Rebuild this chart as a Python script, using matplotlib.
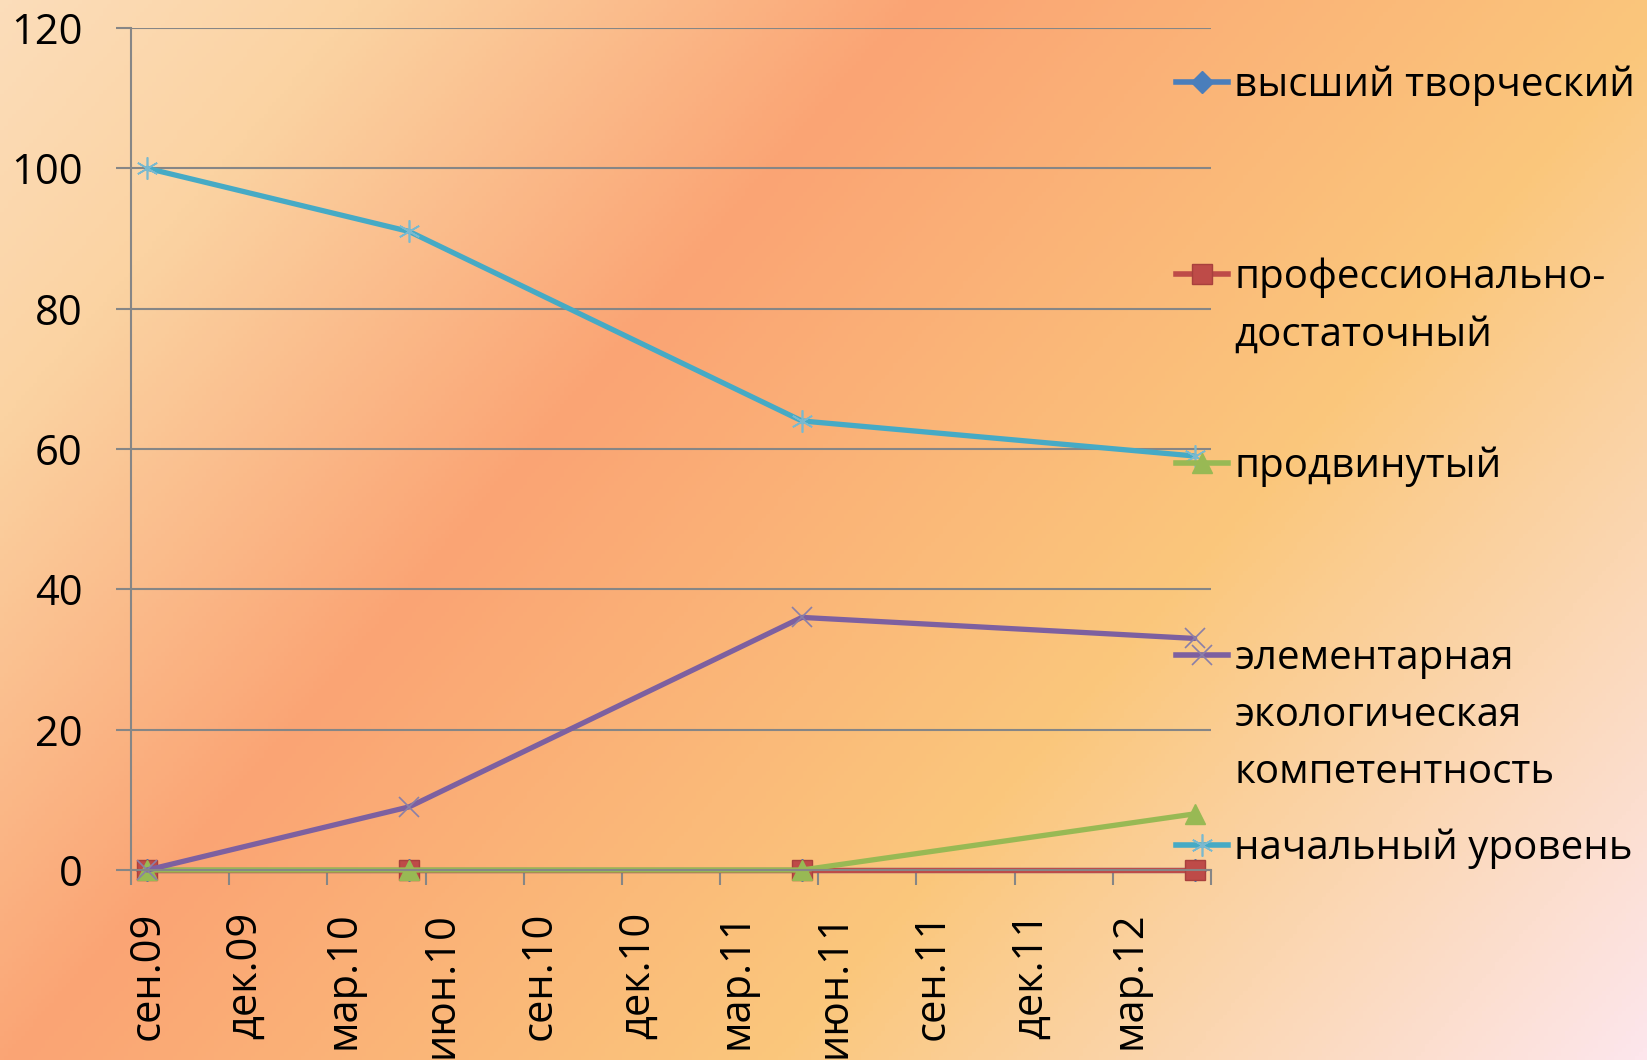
import numpy as np
import matplotlib
matplotlib.use("Agg")
import matplotlib.pyplot as plt
from matplotlib.colors import LinearSegmentedColormap
from matplotlib.lines import Line2D

plt.rcParams['font.family'] = ['Open Sans', 'DejaVu Sans']

# data
start_month = (2009, 9)
n_months = 33
dates = [(2009, 9), (2010, 5), (2011, 5), (2012, 5)]
tick_labels = ['сен.09', 'дек.09', 'мар.10', 'июн.10', 'сен.10', 'дек.10',
               'мар.11', 'июн.11', 'сен.11', 'дек.11', 'мар.12']
series_names = ['высший творческий', 'профессионально-\nдостаточный', 'продвинутый',
                'элементарная\nэкологическая\nкомпетентность', 'начальный уровень']
vysshiy = [0, 0, 0, 0]
prof = [0, 0, 0, 0]
prodv = [0, 0, 0, 8]
element = [0, 9, 36, 33]
nachal = [100, 91, 64, 59]

colors = ['#4A7EBB', '#BE4B48', '#98B954', '#7D60A0', '#46AAC5']
markers = ['D', 's', '^', 'x', (6, 2, 0)]
msizes = [11, 14, 15, 15, 16]
mecs = ['#4A7EBB', '#A8403D', '#98B954', '#8a7fa8', '#7ab9cf']
mews = [1, 1, 1, 1.2, 1.2]

x = np.array([(y - start_month[0]) * 12 + (m - start_month[1]) for y, m in dates]) + 0.5

fig = plt.figure(figsize=(16.47, 10.6), dpi=100)

# gradient background
bg = fig.add_axes([0, 0, 1, 1], zorder=-10)
W, H = 1647, 1060
xx, yy = np.meshgrid(np.linspace(0, W, 400), np.linspace(0, H, 260))
t = (xx * 0.76 + yy * 0.65) / (W * 0.76 + H * 0.65)
cmap = LinearSegmentedColormap.from_list('bg', [
    (0.0, '#FBDDBA'), (0.14, '#FBD3A2'), (0.36, '#FAA474'),
    (0.66, '#FAC77C'), (0.82, '#FBD6B0'), (1.0, '#FDE6EC')])
bg.imshow(t, cmap=cmap, aspect='auto', extent=[0, 1, 0, 1], origin='upper')
bg.axis('off')

ax = fig.add_axes([131 / W, 1 - 870 / H, (1211 - 131) / W, (870 - 28) / H])
ax.patch.set_alpha(0)

all_series = [vysshiy, prof, prodv, element, nachal]
lines = []
for vals, c, mk, ms, mec, mew, name in zip(all_series, colors, markers, msizes, mecs, mews, series_names):
    ln, = ax.plot(x, vals, color=c, lw=3.8, marker=mk, markersize=ms,
                  markerfacecolor=c, markeredgecolor=mec, markeredgewidth=mew,
                  label=name, clip_on=False, solid_capstyle='round')
    lines.append(ln)

ax.set_xlim(0, n_months)
ax.set_ylim(0, 120)
ax.set_yticks(np.arange(0, 121, 20))
ax.yaxis.grid(True, color='#868686', lw=1.5)
ax.set_axisbelow(True)
ax.tick_params(axis='y', length=11, width=1.5, color='#868686', pad=24, labelsize=30)

ax.set_xticks(np.arange(0, n_months + 1, 3))
ax.set_xticklabels([])
ax.set_xticks(np.arange(0, 31, 3) + 0.5, minor=True)
ax.set_xticklabels(tick_labels, minor=True, rotation=90, fontsize=30)
ax.tick_params(axis='x', which='major', length=11, width=1.5, color='#868686')
ax.tick_params(axis='x', which='minor', length=0, pad=30)

for s in ['top', 'right']:
    ax.spines[s].set_visible(False)
for s in ['left', 'bottom']:
    ax.spines[s].set_color('#868686')
    ax.spines[s].set_linewidth(1.5)

# legend: one block per series, first line next to the marker
legend_y = [86, 278, 467, 659, 849]
line_step = 57
legends = []
for ln, name, ly in zip(lines, series_names, legend_y):
    first = name.split('\n')[0]
    h = Line2D([], [], color=ln.get_color(), lw=4, marker=ln.get_marker(),
               markersize=ln.get_markersize(), markerfacecolor=ln.get_markerfacecolor(),
               markeredgecolor=ln.get_markeredgecolor(), markeredgewidth=ln.get_markeredgewidth())
    leg = fig.legend([h], [first], loc='center left', bbox_to_anchor=(1176 / W, 1 - ly / H),
                     frameon=False, fontsize=29, handlelength=1.3, handletextpad=0.15,
                     borderpad=0, borderaxespad=0)
    legends.append(leg)

fig.canvas.draw()
for leg, name, ly in zip(legends, series_names, legend_y):
    rest = name.split('\n')[1:]
    bb = leg.get_texts()[0].get_window_extent()
    for k, txt in enumerate(rest, start=1):
        fig.text(bb.x0 / W, 1 - (ly + k * line_step) / H, txt, fontsize=29,
                 va='center', ha='left')

fig.savefig('out.png', dpi=100)
